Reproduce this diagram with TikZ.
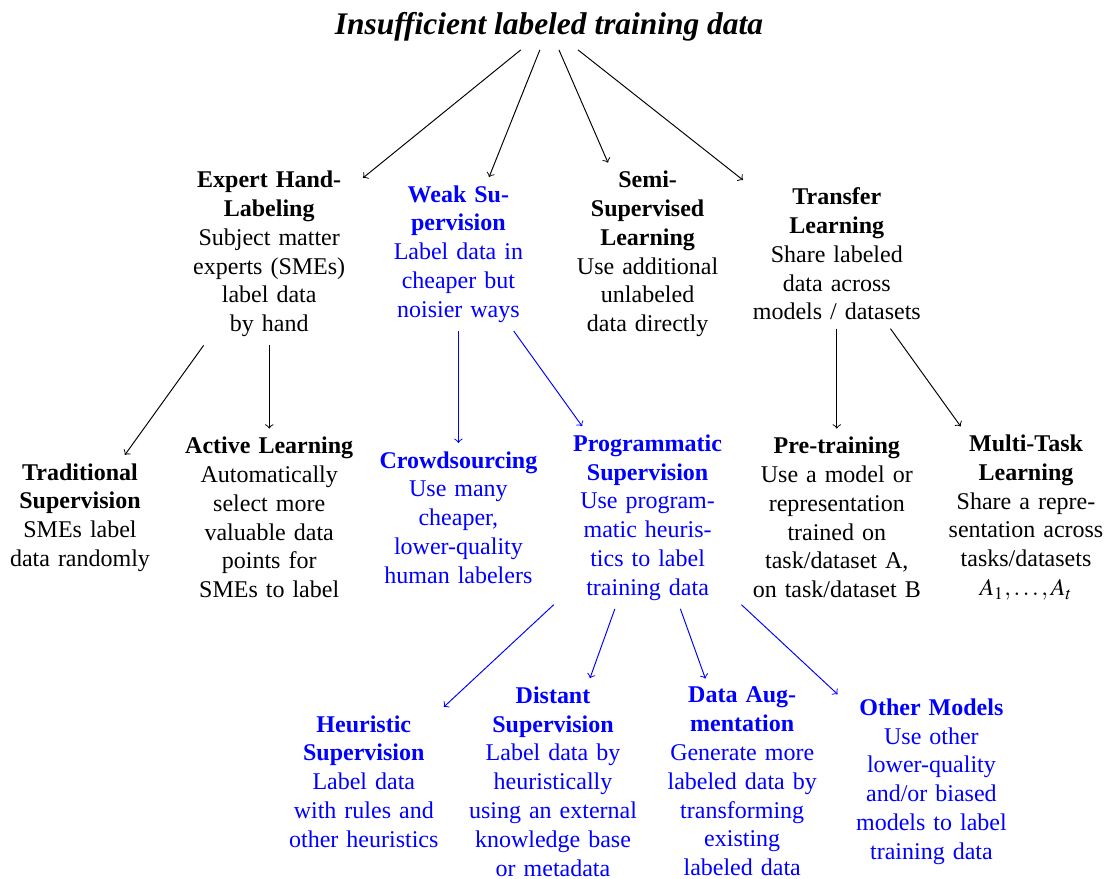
\documentclass[tikz,border=0pt]{standalone}
\usepackage{mathptmx}
\usepackage{fontspec}
\setmainfont{Liberation Serif}
\tikzset{
  box/.style={text width=2.5cm, align=center, inner sep=3.33pt, font=\fontsize{10}{12}\selectfont},
  wk/.style={box, text=blue},
  arr/.style={->, thin},
  warr/.style={->, thin, blue}
}
\begin{document}
\begin{tikzpicture}[x=0.4167pt, y=-0.4167pt]
\useasboundingbox (0,0) rectangle (1108,879);
% root
\node[font=\fontsize{13.1}{15}\selectfont\bfseries\itshape, inner sep=3.33pt] (root) at (549,27) {Insufficient labeled training data};
% level 1
\node[box] (expert) at (269.2,254) {\textbf{Expert Hand-}\\\textbf{Labeling}\\Subject matter\\experts (SMEs)\\label data\\by hand};
\node[wk] (weak) at (458.4,254) {\textbf{Weak Su-}\\\textbf{pervision}\\Label data in\\cheaper but\\noisier ways};
\node[box] (semi) at (647.6,254) {\textbf{Semi-}\\\textbf{Supervised}\\\textbf{Learning}\\Use additional\\unlabeled\\data directly};
\node[box] (transfer) at (836.8,254) {\textbf{Transfer}\\\textbf{Learning}\\Share labeled\\data across\\models / datasets};
% level 2
\node[box] (trad) at (80,517.5) {\textbf{Traditional}\\\textbf{Supervision}\\SMEs label\\data randomly};
\node[box] (active) at (269.2,517.5) {\textbf{Active Learning}\\Automatically\\select more\\valuable data\\points for\\SMEs to label};
\node[wk] (crowd) at (458.4,517.5) {\textbf{Crowdsourcing}\\Use many\\cheaper,\\lower-quality\\human labelers};
\node[wk] (prog) at (647.6,517.5) {\textbf{Programmatic}\\\textbf{Supervision}\\Use program-\\matic heuris-\\tics to label\\training data};
\node[box] (pre) at (836.8,517.5) {\textbf{Pre-training}\\Use a model or\\representation\\trained on\\task/dataset A,\\on task/dataset B};
\node[box] (multi) at (1026,517.5) {\textbf{Multi-Task}\\\textbf{Learning}\\Share a repre-\\sentation across\\tasks/datasets\\$A_1,\ldots,A_t$};
% level 3
\node[wk] (heur) at (363.8,781.5) {\textbf{Heuristic}\\\textbf{Supervision}\\Label data\\with rules and\\other heuristics};
\node[wk] (distant) at (553,781.5) {\textbf{Distant}\\\textbf{Supervision}\\Label data by\\heuristically\\using an external\\knowledge base\\or metadata};
\node[wk] (aug) at (742.2,781.5) {\textbf{Data Aug-}\\\textbf{mentation}\\Generate more\\labeled data by\\transforming\\existing\\labeled data};
\node[wk] (other) at (931.4,781.5) {\textbf{Other Models}\\Use other\\lower-quality\\and/or biased\\models to label\\training data};
% connectors
\draw[arr] (root) -- (expert);
\draw[arr] (root) -- (weak);
\draw[arr] (root) -- (semi);
\draw[arr] (root) -- (transfer);
\draw[arr] (expert) -- (trad);
\draw[arr] (expert) -- (active);
\draw[warr] (weak) -- (crowd);
\draw[warr] (weak) -- (prog);
\draw[arr] (transfer) -- (pre);
\draw[arr] (transfer) -- (multi);
\draw[warr] (prog) -- (heur);
\draw[warr] (prog) -- (distant);
\draw[warr] (prog) -- (aug);
\draw[warr] (prog) -- (other);
\end{tikzpicture}
\end{document}
